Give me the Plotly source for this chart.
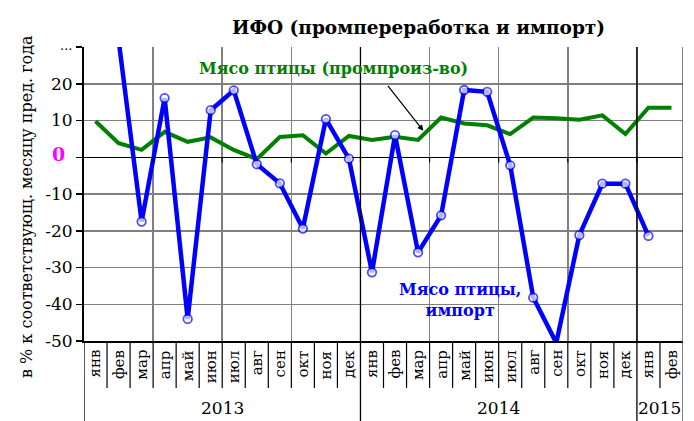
import plotly.graph_objects as go

# ---------------- data ----------------
months = ["янв", "фев", "мар", "апр", "май", "июн", "июл", "авг", "сен", "окт", "ноя", "дек",
          "янв", "фев", "мар", "апр", "май", "июн", "июл", "авг", "сен", "окт", "ноя", "дек",
          "янв", "фев"]
years = ["2013", "2014", "2015"]
year_months = [12, 12, 2]

poultry_production = [9.8, 3.8, 2.0, 6.9, 4.2, 5.4, 2.0, -0.5, 5.5, 6.0, 1.0, 5.8,
                      4.7, 5.6, 4.7, 10.8, 9.2, 8.7, 6.3, 10.8, 10.6, 10.2, 11.4, 6.3,
                      13.5, 13.5]
poultry_import = [None, 110.6, -17.5, 16.1, -44.0, 12.8, 18.2, -1.9, -7.1, -19.4, 10.4, -0.4,
                  -31.3, 6.0, -25.9, -15.8, 18.3, 17.8, -2.2, -38.2, -50.5, -21.2, -7.2, -7.2,
                  -21.4, None]

y_ticks = [-50, -40, -30, -20, -10, 0, 10, 20, 30]
y_ticktext = ["-50", "-40", "-30", "-20", "-10", "", "10", "20", ""]

Y_MIN, Y_MAX = -50, 30

# ---------------- styling ----------------
SERIF = "DejaVu Serif"
GREEN = "#008000"
BLUE = "#0000FF"
GRID = "#808080"

n = len(months)
xs = list(range(n))

# values beyond the axis maximum are drawn just past the top edge (as in the original)
imp_display = [None if v is None else min(v, Y_MAX + 2) for v in poultry_import]
imp_marker_size = [0 if (v is None or v > Y_MAX or v < Y_MIN) else 8.5 for v in poultry_import]

fig = go.Figure()
fig.add_trace(go.Scatter(
    x=xs, y=poultry_production, mode="lines",
    line=dict(color=GREEN, width=4), showlegend=False, hoverinfo="skip"))
fig.add_trace(go.Scatter(
    x=xs, y=imp_display, mode="lines+markers", connectgaps=False,
    line=dict(color=BLUE, width=4.5),
    marker=dict(symbol="circle", size=imp_marker_size, color="white",
                line=dict(color=BLUE, width=1.8)),
    showlegend=False, hoverinfo="skip"))

# quarter gridlines
quarter_lines = [q + 2.5 for q in range(0, n - 1, 3)]

shapes = []
bounds = [-0.5]
acc = -0.5
for m in year_months:
    acc += m
    bounds.append(acc)

for b in bounds[1:-1]:
    shapes.append(dict(type="line", xref="x", yref="paper", x0=b, x1=b, y0=-0.272, y1=1,
                       line=dict(color="black", width=1.3)))
shapes.append(dict(type="line", xref="x", yref="paper", x0=-0.5, x1=-0.5, y0=-0.272, y1=0,
                   line=dict(color="black", width=1.3)))
shapes.append(dict(type="line", xref="x", yref="paper", x0=n - 0.5, x1=n - 0.5, y0=-0.272, y1=1,
                   line=dict(color="#404040", width=1.3)))
for k in range(1, n):
    b = k - 0.5
    if b in bounds:
        continue
    shapes.append(dict(type="line", xref="x", yref="paper", x0=b, x1=b, y0=-0.16, y1=0,
                       line=dict(color="black", width=1.2)))
for q in quarter_lines:
    shapes.append(dict(type="line", xref="x", yref="y", x0=q, x1=q, y0=0, y1=-1.4,
                       line=dict(color="black", width=1.2)))

annotations = []
for i, m in enumerate(months):
    annotations.append(dict(x=i, y=-0.024, xref="x", yref="paper", text=m, textangle=-90,
                            showarrow=False, xanchor="center", yanchor="top",
                            font=dict(family=SERIF, size=15, color="black")))
start = -0.5
for yname, m in zip(years, year_months):
    annotations.append(dict(x=start + m / 2, y=-0.228, xref="x", yref="paper", text=yname,
                            showarrow=False, xanchor="center", yanchor="middle",
                            font=dict(family=SERIF, size=17, color="black")))
    start += m

annotations += [
    dict(x=0.559, y=1.068, xref="paper", yref="paper", text="<b>ИФО (промпереработка и импорт)</b>",
         showarrow=False, xanchor="center", yanchor="middle",
         font=dict(family=SERIF, size=18.5, color="black")),
    dict(x=-0.095, y=0.456, xref="paper", yref="paper", text="в % к соответствующ. месяцу пред. года",
         textangle=-90, showarrow=False, xanchor="center", yanchor="middle",
         font=dict(family=SERIF, size=16, color="black")),
    dict(x=10.35, y=24.2, xref="x", yref="y", text="<b>Мясо птицы (промпроиз-во)</b>",
         showarrow=False, xanchor="center", yanchor="middle",
         font=dict(family=SERIF, size=16, color=GREEN)),
    dict(x=14.23, y=7.2, xref="x", yref="y", ax=12.64, ay=19.8, axref="x", ayref="y",
         text="", showarrow=True, arrowhead=2, arrowsize=1, arrowwidth=1.2, arrowcolor="black"),
    dict(x=15.82, y=-38.9, xref="x", yref="y", text="<b>Мясо птицы,<br>импорт</b>",
         showarrow=False, xanchor="center", yanchor="middle", align="center",
         font=dict(family=SERIF, size=16, color=BLUE)),
    dict(x=1.5, y=34.0, xref="x", yref="y", text="110,6",
         showarrow=False, xanchor="center", yanchor="middle",
         font=dict(family="Liberation Sans", size=15, color="black")),
    dict(x=-0.042, y=0.8, xref="paper", yref="y", text="<b>0</b>",
         showarrow=False, xanchor="center", yanchor="middle",
         font=dict(family=SERIF, size=19, color="#FF00FF")),
    dict(x=-0.017, y=Y_MAX, xref="paper", yref="y", text="...", yshift=-8,
         showarrow=False, xanchor="right", yanchor="bottom",
         font=dict(family=SERIF, size=13, color="black")),
]

fig.update_layout(
    width=694, height=421, autosize=False,
    margin=dict(l=84, r=11, t=47, b=80),
    paper_bgcolor="white", plot_bgcolor="white",
    shapes=shapes, annotations=annotations,
    xaxis=dict(range=[-0.5, n - 0.5], tickmode="array", tickvals=quarter_lines,
               showticklabels=False, ticks="", showgrid=True, gridcolor=GRID, gridwidth=1.5,
               zeroline=False, showline=True, linecolor="black", linewidth=1.5),
    yaxis=dict(range=[Y_MIN, Y_MAX], tickmode="array", tickvals=y_ticks, ticktext=y_ticktext,
               ticks="outside", ticklen=6, tickwidth=1.5, tickcolor="black",
               showgrid=True, gridcolor=GRID, gridwidth=1.5,
               zeroline=True, zerolinecolor="black", zerolinewidth=1.5,
               showline=True, linecolor="black", linewidth=2,
               tickfont=dict(family=SERIF, size=17, color="black")),
)

fig.write_html("out.html", config={"displayModeBar": False, "staticPlot": True},
               post_script="document.body.style.margin='0';document.body.style.overflow='hidden';")
